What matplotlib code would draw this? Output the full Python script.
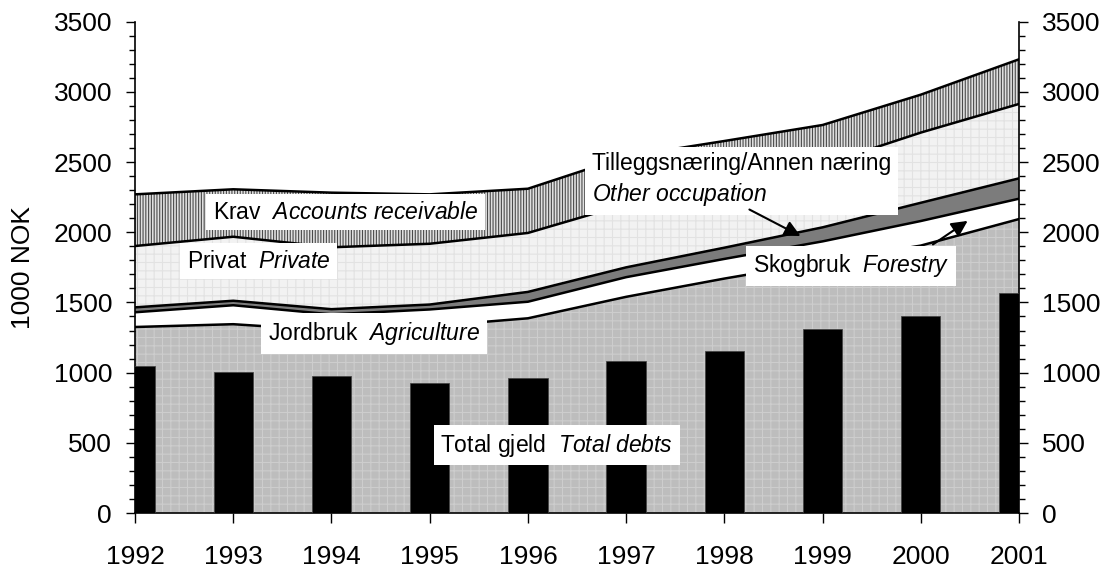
import numpy as np
import matplotlib.pyplot as plt

plt.rcParams['font.family'] = ['Liberation Sans', 'DejaVu Sans']
plt.rcParams['mathtext.fontset'] = 'custom'
plt.rcParams['mathtext.rm'] = 'Liberation Sans'
plt.rcParams['mathtext.it'] = 'Liberation Sans:italic'
plt.rcParams['hatch.linewidth'] = 0.8

# Cumulative tops of the stacked areas (1000 NOK)
years = [1992, 1993, 1994, 1995, 1996, 1997, 1998, 1999, 2000, 2001]
jordbruk_top = [1325, 1345, 1300, 1330, 1387, 1540, 1670, 1790, 1905, 2094]
skogbruk_top = [1430, 1480, 1415, 1450, 1505, 1680, 1810, 1935, 2080, 2239]
tillegg_top = [1465, 1512, 1452, 1485, 1575, 1750, 1890, 2035, 2210, 2384]
privat_top = [1902, 1968, 1893, 1918, 1995, 2200, 2340, 2480, 2710, 2914]
krav_top = [2270, 2306, 2282, 2270, 2310, 2540, 2650, 2764, 2980, 3232]
# Total debts (bars)
total_gjeld = [1047, 1007, 978, 924, 964, 1085, 1154, 1313, 1406, 1569]

x = np.array(years)
zero = np.zeros(len(years))

fig = plt.figure(figsize=(11.12, 5.69), dpi=100)
ax = fig.add_axes([0.1214, 0.0984, 0.795, 0.8635])

ax.fill_between(x, zero, jordbruk_top, facecolor='#bdbdbd', edgecolor='#cdcdcd',
                hatch='++', linewidth=0, zorder=1)
ax.fill_between(x, jordbruk_top, skogbruk_top, facecolor='white', linewidth=0, zorder=1)
ax.fill_between(x, skogbruk_top, tillegg_top, facecolor='#7c7c7c', linewidth=0, zorder=1)
ax.fill_between(x, tillegg_top, privat_top, facecolor='#f2f2f2', edgecolor='#e2e2e2',
                hatch='++', linewidth=0, zorder=1)
ax.fill_between(x, privat_top, krav_top, facecolor='#e0e0e0', edgecolor='#4a4a4a',
                hatch='||||||', linewidth=0, zorder=1)

for top in [jordbruk_top, skogbruk_top, tillegg_top, privat_top, krav_top]:
    ax.plot(x, top, color='black', lw=1.8, zorder=2)

ax.bar(x, total_gjeld, width=0.4, color='black', edgecolor='#404040', lw=0.5, zorder=3)

ax.set_xlim(1992, 2001)
ax.set_ylim(0, 3500)
ax.set_xticks(years)
ax.set_yticks(np.arange(0, 3501, 500))
ax.set_yticks(np.arange(0, 3501, 100), minor=True)
ax.spines['top'].set_visible(False)
for s in ['left', 'right', 'bottom']:
    ax.spines[s].set_linewidth(1.2)
ax.tick_params(axis='y', which='major', direction='out', length=6.5, width=1,
               labelsize=19, pad=10, right=True, labelright=True)
ax.tick_params(axis='y', which='minor', direction='out', length=4, width=1, right=True)
ax.tick_params(axis='x', which='major', direction='out', length=7, width=1,
               labelsize=19, pad=16)
ax.set_ylabel('1000 NOK', fontsize=19)
ax.yaxis.set_label_coords(-0.113, 0.5)

box = dict(facecolor='white', edgecolor='none', pad=5)
fs = 16.5
ax.text(1992.79, 2144, r'Krav  $\mathit{Accounts\ receivable}$', fontsize=fs,
        va='center', ha='left', bbox=box, zorder=5)
ax.text(1992.53, 1795, r'Privat  $\mathit{Private}$', fontsize=fs,
        va='center', ha='left', bbox=box, zorder=5)
ax.text(1993.35, 1280, r'Jordbruk  $\mathit{Agriculture}$', fontsize=fs,
        va='center', ha='left', bbox=box, zorder=5)
ax.text(1995.11, 484, r'Total gjeld  $\mathit{Total\ debts}$', fontsize=fs,
        va='center', ha='left', bbox=box, zorder=5)
ax.text(1996.65, 2372, 'Tilleggsnæring/Annen næring\n' + r'$\mathit{Other\ occupation}$',
        fontsize=fs, va='center', ha='left', linespacing=1.3, bbox=box, zorder=5)
ax.text(1998.29, 1760, r'Skogbruk  $\mathit{Forestry}$', fontsize=fs,
        va='center', ha='left', bbox=box, zorder=5)

arrow = dict(arrowstyle='-|>', color='black', lw=1.5, mutation_scale=24)
ax.annotate('', xy=(1998.80, 1964), xytext=(1998.23, 2171), arrowprops=arrow, zorder=6)
ax.annotate('', xy=(2000.50, 2092), xytext=(2000.10, 1902), arrowprops=arrow, zorder=6)

fig.savefig('out.png', dpi=100)
